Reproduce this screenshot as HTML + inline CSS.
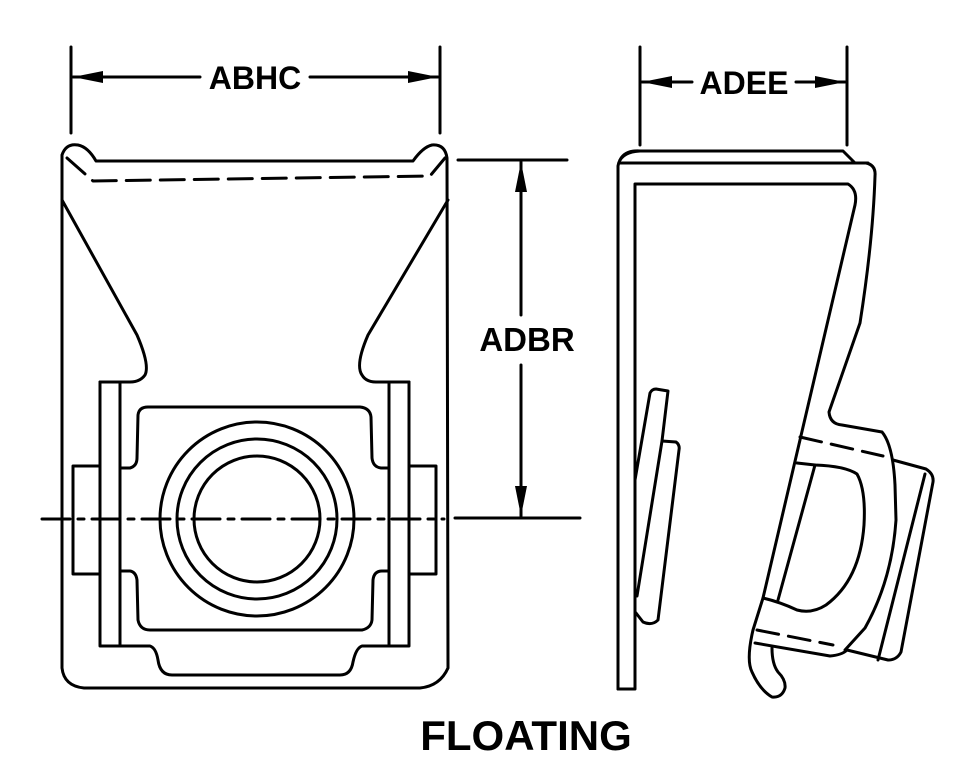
<!DOCTYPE html>
<html><head><meta charset="utf-8"><style>
html,body{margin:0;padding:0;background:#fff;}
svg{display:block}
text{font-family:"Liberation Sans",Arial,sans-serif;font-weight:bold;fill:#000}
</style></head><body>
<svg width="975" height="784" viewBox="0 0 975 784" xmlns="http://www.w3.org/2000/svg">
<defs>
<marker id="ab" viewBox="0 0 30 12" refX="30" refY="6" markerWidth="30" markerHeight="12" markerUnits="userSpaceOnUse" orient="auto-start-reverse"><path d="M0,0 L30,6 L0,12 Z" fill="#000"/></marker>
</defs>
<g fill="none" stroke="#000" stroke-width="3" stroke-linejoin="round" stroke-linecap="round">
<!-- dimensions -->
<line x1="71" y1="47" x2="71" y2="133"/>
<line x1="440" y1="47" x2="440" y2="133"/>
<line x1="73" y1="77" x2="200" y2="77" marker-start="url(#ab)"/>
<line x1="310" y1="77" x2="438" y2="77" marker-end="url(#ab)"/>
<line x1="640" y1="47" x2="640" y2="145"/>
<line x1="847" y1="47" x2="847" y2="145"/>
<line x1="642" y1="82" x2="692" y2="82" marker-start="url(#ab)"/>
<line x1="796" y1="82" x2="845" y2="82" marker-end="url(#ab)"/>
<line x1="458" y1="160" x2="567" y2="160"/>
<line x1="455" y1="518" x2="580" y2="518"/>
<line x1="521" y1="162" x2="521" y2="315" marker-start="url(#ab)"/>
<line x1="521" y1="365" x2="521" y2="516" marker-end="url(#ab)"/>

<!-- LEFT VIEW -->
<path d="M62,155 Q66,143 78,145 Q88,147 96,161 L413,161 Q423,147 432,145 Q445,144 447,158 L448,668 Q440,686 420,688 L84,688 Q64,686 62,668 Z"/>
<path d="M67,158 L93,181 L430,176 L445,158" stroke-dasharray="24,10"/>
<path d="M62,200 L137,335 Q150,365 145,375 Q140,382 130,382 L100,382"/>
<path d="M448,200 L368,335 Q355,365 362,375 Q366,382 376,382 L409,382"/>
<rect x="100" y="382" width="20" height="264"/>
<rect x="389" y="382" width="20" height="264"/>
<rect x="73" y="466" width="27" height="108"/>
<rect x="409" y="466" width="27" height="108"/>
<path d="M120,468 L130,468 Q137,466 137,458 L138,415 Q139,407 148,407 L360,407 Q370,408 371,417 L372,458 Q373,467 381,468 L389,468"/>
<path d="M120,571 L130,571 Q136,572 137,580 L138,620 Q140,630 150,630 L362,630 Q371,628 372,620 L373,580 Q374,571 382,571 L389,571"/>
<path d="M120,646 L150,646 Q156,648 158,660 Q160,675 172,675 L340,675 Q351,675 353,662 Q356,648 362,646 L389,646"/>
<circle cx="257" cy="519" r="97"/>
<circle cx="257" cy="519" r="80"/>
<circle cx="257" cy="519" r="63"/>
<line x1="42" y1="519" x2="444" y2="519" stroke-dasharray="28,8,6,8"/>

<!-- RIGHT VIEW -->
<path d="M618,689 L618,166 Q620,152 640,151 L843,151 L855,163 L866,163 Q876,165 875,176 Q873,240 860,323 L829,412 Q830,424 842,425 L882,432 Q893,445 895,485 L896,520 Q892,580 865,628 L845,650"/>
<path d="M620,163 L868,163"/>
<path d="M620,160 Q625,150 640,151"/>
<path d="M618,689 L635,689 L635,184 L848,184 Q858,190 855,205 L763,598 L753,630 Q746,660 752,672 Q760,690 772,697 Q782,698 785,688 Q786,680 778,672 Q772,664 772,648"/>
<path d="M635,480 L650,393 Q652,389 656,389 L668,391 L662,441 L676,442 Q680,445 679,450 L658,620 Q652,626 643,622 L636,613"/>
<line x1="662" y1="441" x2="637" y2="596"/>
<path d="M800,437 L883,456" stroke-dasharray="22,10"/>
<path d="M893,460 L926,469 Q934,474 933,482 L901,652 Q897,660 888,660 L847,650"/>
<line x1="925" y1="474" x2="878" y2="660"/>
<path d="M797,463 L815,465 Q845,466 857,474 Q866,490 864,525 Q860,580 826,605 Q812,614 797,610 Q780,602 763,598"/>
<line x1="815" y1="465" x2="778" y2="600"/>
<path d="M757,630 L833,645" stroke-dasharray="22,10"/>
<path d="M755,643 L830,656 Q842,655 847,650"/>
</g>
<text x="255" y="89" font-size="32" text-anchor="middle">ABHC</text>
<text x="744" y="94" font-size="32" text-anchor="middle">ADEE</text>
<text x="527" y="351" font-size="33" text-anchor="middle">ADBR</text>
<text x="526" y="750" font-size="42" text-anchor="middle">FLOATING</text>
</svg>
</body></html>
